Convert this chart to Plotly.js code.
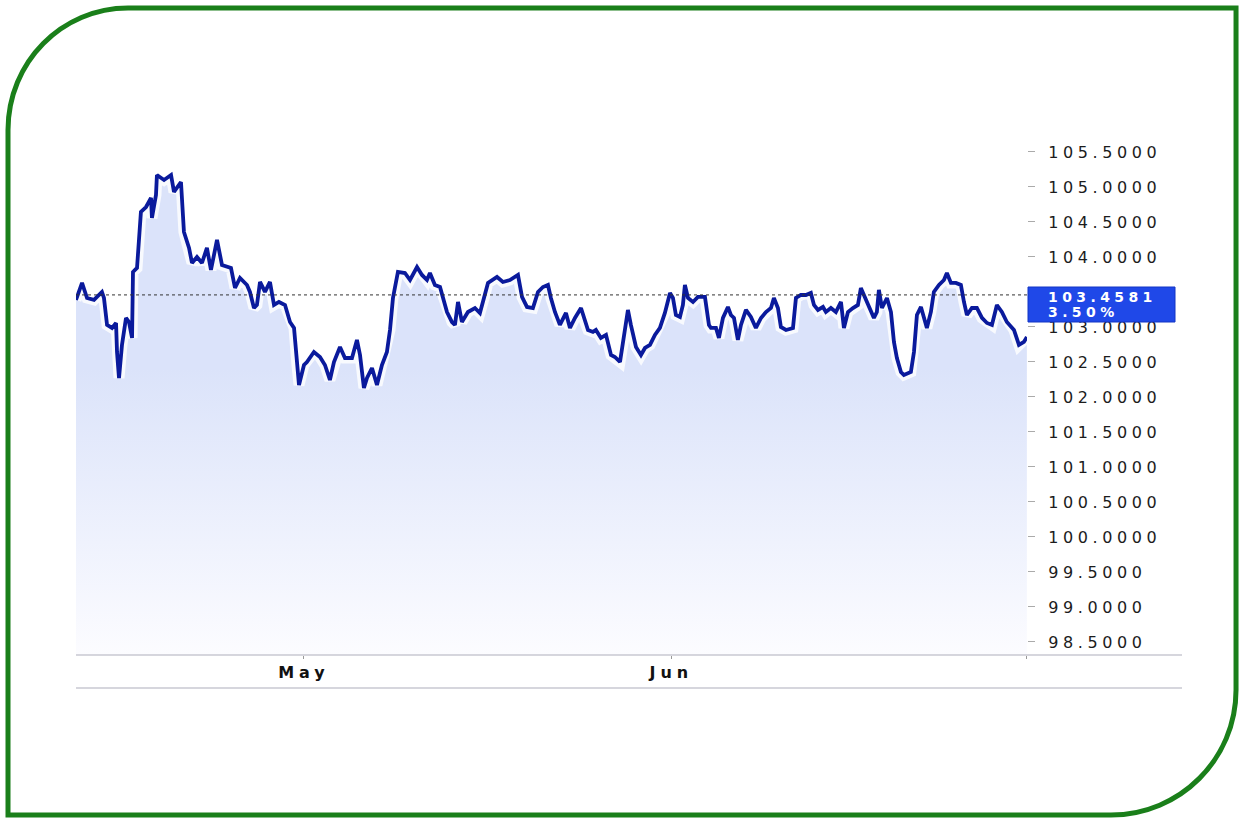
<!DOCTYPE html>
<html>
<head>
<meta charset="utf-8">
<script src="https://cdn.plot.ly/plotly-3.0.1.min.js"></script>
<style>
  html, body { margin:0; padding:0; background:#fff; }
  #chart { width:1240px; height:819px; }
  .ytick text { letter-spacing: 4.6px; }
  .xtick text { letter-spacing: 5px; }
  .annotation-text { letter-spacing: 4.4px; }
</style>
</head>
<body>
<div id="chart"></div>
<script>
// Days since 1 May (time axis)
const dayOffset = [
  -19.24,-18.73,-18.31,-17.72,-17.05,-16.88,-16.62,-16.20,-15.86,-15.78,
  -15.61,-15.36,-15.02,-14.77,-14.51,-14.43,-14.09,-13.76,-13.33,-12.91,
  -12.83,-12.49,-12.41,-11.81,-11.22,-10.97,-10.38,-10.13,-9.70,-9.45,
  -9.03,-8.61,-8.19,-7.85,-7.34,-6.92,-6.16,-5.82,-5.40,-4.81,
  -4.56,-4.22,-3.97,-3.71,-3.29,-2.87,-2.53,-2.11,-1.60,-1.18,
  -0.84,-0.59,-0.42,0.00,0.25,0.84,1.35,1.77,2.19,2.53,
  3.04,3.46,4.05,4.47,4.73,5.06,5.32,5.74,6.16,6.58,
  7.00,7.26,7.51,7.93,8.52,8.95,9.54,9.96,10.38,10.63,
  11.05,11.48,11.73,12.07,12.49,12.74,13.00,13.33,13.84,14.43,
  14.85,15.27,15.53,16.29,16.79,17.38,18.06,18.40,18.82,19.32,
  19.75,20.17,20.59,20.84,21.18,21.60,22.11,22.45,22.87,23.38,
  23.71,23.97,24.39,24.64,25.06,25.49,25.91,26.24,26.67,27.09,
  27.34,27.59,28.02,28.44,28.78,29.20,29.62,30.04,30.46,30.89,
  31.14,31.39,31.73,31.98,32.15,32.41,32.83,33.25,33.84,34.18,
  34.35,34.77,35.02,35.36,35.78,36.03,36.29,36.62,36.88,37.30,
  37.72,38.14,38.57,38.99,39.41,39.66,40.00,40.25,40.68,41.27,
  41.52,41.94,42.36,42.78,43.04,43.38,43.80,44.05,44.47,44.89,
  45.32,45.57,45.91,46.33,46.75,47.00,47.26,47.68,48.10,48.35,
  48.52,48.78,49.20,49.54,49.79,50.04,50.38,50.63,51.22,51.48,
  51.73,52.07,52.32,52.57,52.91,53.16,53.59,54.01,54.26,54.60,
  55.02,55.44,55.70,55.95,56.37,56.79,57.22,57.64,58.06,58.48,
  58.90,59.32,59.92,60.34,60.76,61.01
];
const price = [
  103.386,103.629,103.414,103.386,103.500,103.414,103.029,102.986,103.057,102.643,
  102.271,102.743,103.129,103.071,102.843,103.786,103.843,104.643,104.714,104.843,
  104.557,104.886,105.171,105.100,105.171,104.929,105.071,104.357,104.129,103.914,
  104.000,103.914,104.129,103.814,104.243,103.886,103.843,103.557,103.700,103.600,
  103.500,103.271,103.314,103.643,103.500,103.643,103.314,103.357,103.314,103.071,
  102.986,102.457,102.171,102.457,102.500,102.643,102.571,102.457,102.243,102.500,
  102.714,102.557,102.557,102.814,102.600,102.129,102.271,102.414,102.171,102.457,
  102.643,102.957,103.414,103.786,103.771,103.671,103.857,103.743,103.671,103.771,
  103.600,103.571,103.414,103.214,103.071,103.029,103.357,103.071,103.214,103.271,
  103.200,103.457,103.629,103.714,103.643,103.671,103.743,103.429,103.286,103.271,
  103.500,103.571,103.600,103.414,103.214,103.029,103.200,102.986,103.129,103.271,
  103.071,102.957,102.929,102.957,102.843,102.886,102.600,102.571,102.500,102.929,
  103.243,103.029,102.714,102.600,102.700,102.743,102.886,102.986,103.200,103.486,
  103.414,103.171,103.143,103.314,103.600,103.414,103.357,103.429,103.429,103.029,
  102.986,102.986,102.843,103.129,103.286,103.171,103.129,102.814,103.029,103.243,
  103.143,102.986,103.129,103.214,103.271,103.414,103.271,103.000,102.957,102.986,
  103.414,103.457,103.457,103.486,103.314,103.243,103.286,103.214,103.271,103.214,
  103.357,102.986,103.214,103.271,103.314,103.557,103.457,103.314,103.129,103.214,
  103.529,103.271,103.414,103.214,102.786,102.557,102.357,102.314,102.357,102.643,
  103.171,103.286,103.129,102.986,103.214,103.500,103.600,103.671,103.771,103.629,
  103.629,103.600,103.357,103.171,103.271,103.271,103.129,103.057,103.029,103.314,
  103.214,103.071,102.957,102.743,102.786,102.857
];
const monthTicks = ['2024-05-01', '2024-06-01', '2024-07-01'];
const monthLabels = ['May', 'Jun', ''];
const refPrice = 103.4581;
const refLabel = '103.4581';
const changeLabel = '3.50%';
// 103.5 label sits under the price box in the reference, so it is not listed
const yTicks = [98.5, 99.0, 99.5, 100.0, 100.5, 101.0, 101.5, 102.0, 102.5, 103.0, 104.0, 104.5, 105.0, 105.5];

const base = Date.UTC(2024, 4, 1);
const toDate = d => new Date(base + d * 864e5).toISOString().replace('T', ' ').slice(0, 19);
const dates = dayOffset.map(toDate);

const W = 1240, H = 819, mL = 76, mR = 213, mT = 140, mB = 164;
const pw = W - mL - mR, ph = H - mT - mB;
const px = x => (x - mL) / pw;
const py = y => (H - mB - y) / ph;
const f = v => v.toFixed(4);

const border = 'M ' + f(px(8)) + ',' + f(py(130)) +
  ' C ' + f(px(8)) + ',' + f(py(62)) + ' ' + f(px(62)) + ',' + f(py(8)) + ' ' + f(px(128)) + ',' + f(py(8)) +
  ' L ' + f(px(1236)) + ',' + f(py(8)) +
  ' L ' + f(px(1236)) + ',' + f(py(690)) +
  ' C ' + f(px(1236)) + ',' + f(py(759)) + ' ' + f(px(1180)) + ',' + f(py(815)) + ' ' + f(px(1111)) + ',' + f(py(815)) +
  ' L ' + f(px(8)) + ',' + f(py(815)) + ' Z';

const traces = [
  {
    x: dates, y: price, type: 'scatter', mode: 'lines',
    line: {width: 0, color: 'rgba(0,0,0,0)'},
    fill: 'tozeroy',
    fillcolor: 'rgba(220,228,250,1)',
    fillgradient: {type: 'vertical', start: 98.3, stop: 102.4,
      colorscale: [[0, 'rgb(252,252,255)'], [1, 'rgb(219,227,250)']]},
    hoverinfo: 'skip'
  },
  {
    x: dates, y: price, type: 'scatter', mode: 'lines',
    line: {width: 11, color: 'rgba(255,255,255,0.8)'},
    hoverinfo: 'skip'
  },
  {
    x: dates, y: price, type: 'scatter', mode: 'lines',
    line: {width: 3.8, color: '#0a1a9c'}
  }
];

const layout = {
  width: W, height: H,
  margin: {l: mL, r: mR, t: mT, b: mB},
  paper_bgcolor: '#ffffff', plot_bgcolor: '#ffffff',
  showlegend: false,
  xaxis: {
    type: 'date', range: [toDate(-19.24), toDate(61.02)],
    tickvals: monthTicks, ticktext: monthLabels,
    ticks: 'outside', ticklen: 3, tickcolor: '#999',
    showgrid: false, zeroline: false, showline: false,
    ticklabelstandoff: 0,
    tickfont: {family: 'DejaVu Sans', size: 16, color: '#111', weight: 'bold'}
  },
  yaxis: {
    side: 'right', range: [98.314, 105.671],
    tickvals: yTicks, tickformat: '.4f',
    ticks: 'outside', ticklen: 7, tickcolor: '#aaa',
    ticklabelstandoff: 10,
    showgrid: false, zeroline: false, showline: false,
    tickfont: {family: 'DejaVu Sans', size: 16, color: '#1c1c1c'}
  },
  shapes: [
    {type: 'line', xref: 'paper', yref: 'y', x0: 0, x1: 1, y0: refPrice, y1: refPrice,
      line: {color: '#333', width: 1, dash: 'dot'}},
    {type: 'line', xref: 'paper', yref: 'paper', x0: 0, x1: px(1182), y0: 0, y1: 0,
      line: {color: '#c9c9d2', width: 1.5}},
    {type: 'line', xref: 'paper', yref: 'paper', x0: 0, x1: px(1182), y0: py(688), y1: py(688),
      line: {color: '#c9c9d2', width: 1.5}},
    {type: 'rect', xref: 'paper', yref: 'paper', x0: px(1028), x1: px(1175), y0: py(322), y1: py(287),
      fillcolor: '#1f48e8', line: {color: '#1234c4', width: 1}, layer: 'above'},
    {type: 'path', xref: 'paper', yref: 'paper', path: border,
      line: {color: '#1a7f1a', width: 5}, layer: 'above'}
  ],
  annotations: [
    {xref: 'paper', yref: 'paper', x: px(1046), y: py(297), xanchor: 'left', yanchor: 'middle',
      text: refLabel, showarrow: false,
      font: {family: 'DejaVu Sans', size: 14, color: '#ffffff', weight: 'bold'}},
    {xref: 'paper', yref: 'paper', x: px(1046), y: py(312), xanchor: 'left', yanchor: 'middle',
      text: changeLabel, showarrow: false,
      font: {family: 'DejaVu Sans', size: 14, color: '#ffffff', weight: 'bold'}}
  ]
};

Plotly.newPlot('chart', traces, layout, {displayModeBar: false, staticPlot: true});
</script>
</body>
</html>
